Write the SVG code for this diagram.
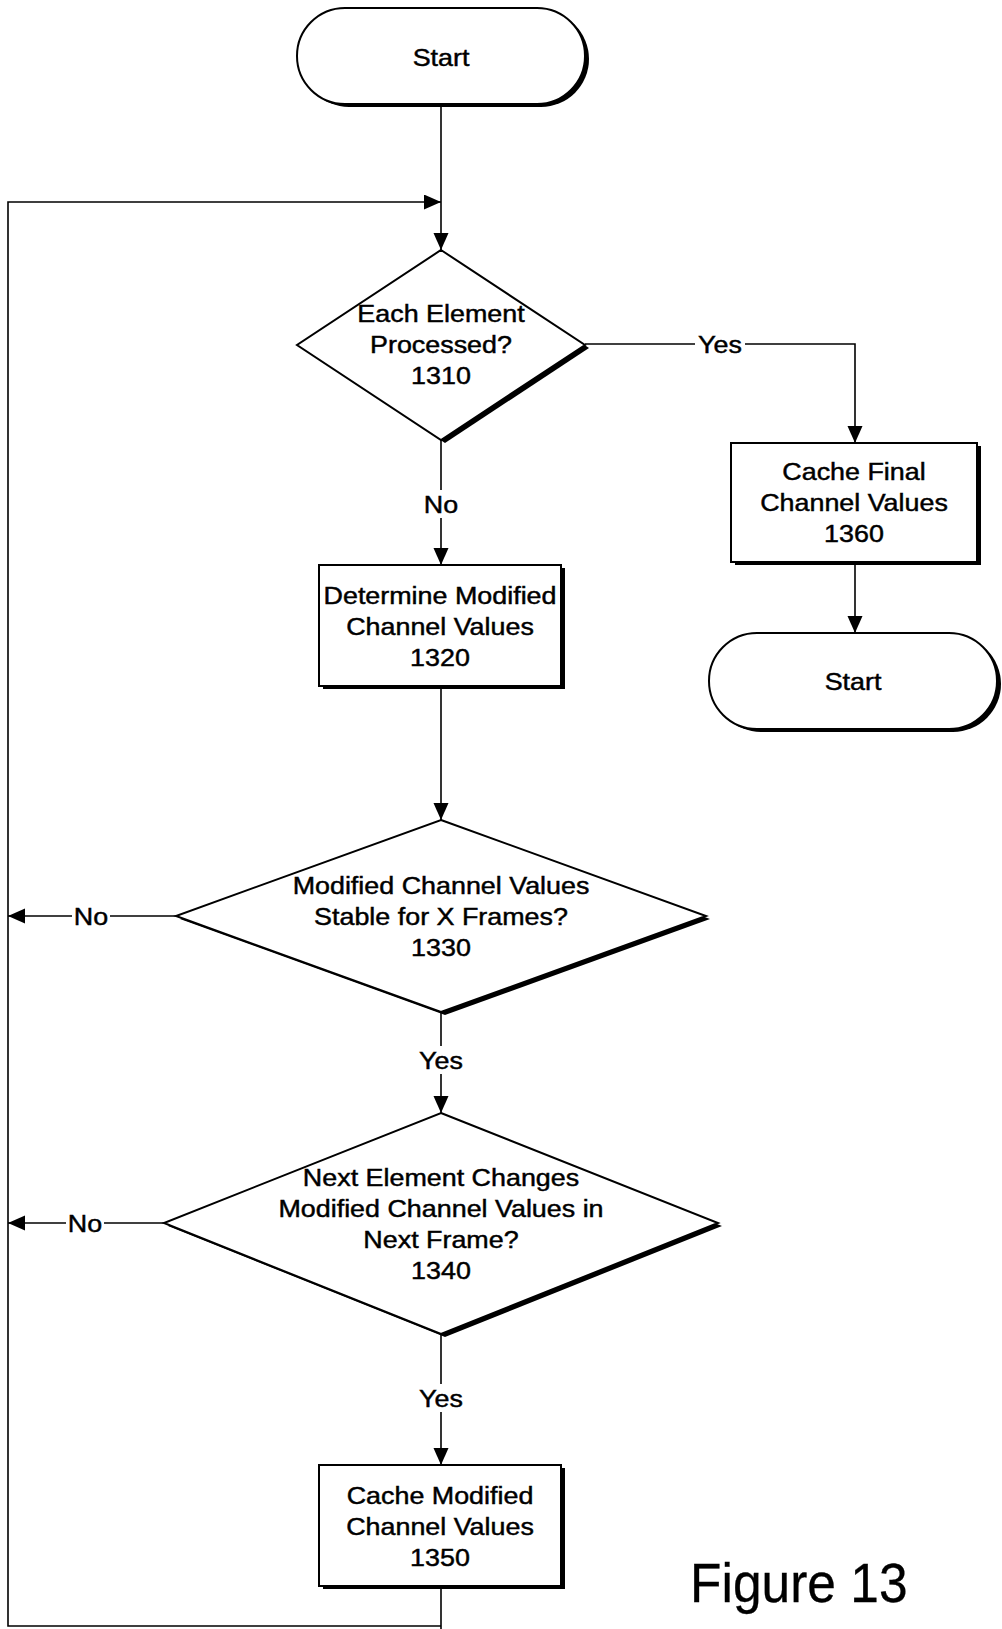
<svg xmlns="http://www.w3.org/2000/svg" width="1002" height="1629" viewBox="0 0 1002 1629">
<style>
.shape{fill:#fff;stroke:#000;stroke-width:2}
.shadow{fill:#000;stroke:none}
.conn{fill:none;stroke:#000;stroke-width:1.6}
.arr{marker-end:url(#ah)}
text{font-family:"Liberation Sans",Arial,sans-serif;font-size:24px;fill:#000;stroke:#000;stroke-width:0.45;text-anchor:middle}
.fig{font-size:56px;text-anchor:start;stroke-width:0.3}
</style>
<defs>
<marker id="ah" markerUnits="userSpaceOnUse" markerWidth="18" markerHeight="16" refX="17" refY="7.5" orient="auto">
<path d="M0,0 L17,7.5 L0,15 Z" fill="#000"/>
</marker>
</defs>
<rect width="1002" height="1629" fill="#fff"/>

<g id="connectors">
<line class="conn arr" x1="441" y1="105" x2="441" y2="250"/>
<polyline class="conn arr" points="441,1626 8,1626 8,202 441,202"/>
<polyline class="conn" points="585,344 695,344"/>
<polyline class="conn arr" points="745,344 855,344 855,443"/>
<line class="conn" x1="441" y1="440" x2="441" y2="490"/>
<line class="conn arr" x1="441" y1="518" x2="441" y2="565"/>
<line class="conn arr" x1="441" y1="686" x2="441" y2="820"/>
<line class="conn" x1="176" y1="916" x2="110" y2="916"/>
<line class="conn arr" x1="72" y1="916" x2="8" y2="916"/>
<line class="conn" x1="441" y1="1012" x2="441" y2="1046"/>
<line class="conn arr" x1="441" y1="1074" x2="441" y2="1113"/>
<line class="conn" x1="164" y1="1223" x2="104" y2="1223"/>
<line class="conn arr" x1="66" y1="1223" x2="8" y2="1223"/>
<line class="conn" x1="441" y1="1334" x2="441" y2="1384"/>
<line class="conn arr" x1="441" y1="1412" x2="441" y2="1465"/>
<line class="conn" x1="441" y1="1586" x2="441" y2="1629"/>
<line class="conn arr" x1="855" y1="562" x2="855" y2="633"/>
<text transform="matrix(1.12 0 0 1 720 352.5)">Yes</text>
<text transform="matrix(1.12 0 0 1 441 512.5)">No</text>
<text transform="matrix(1.12 0 0 1 91 924.5)">No</text>
<text transform="matrix(1.12 0 0 1 441 1068.5)">Yes</text>
<text transform="matrix(1.12 0 0 1 85 1231.5)">No</text>
<text transform="matrix(1.12 0 0 1 441 1406.5)">Yes</text>
</g>

<g id="start">
<rect class="shadow" x="301" y="11" width="288" height="96" rx="48"/>
<rect class="shape" x="297" y="8" width="288" height="96" rx="48"/>
<text transform="matrix(1.12 0 0 1 441 65.5)">Start</text>
</g>

<g id="n1310">
<polygon class="shadow" points="445,253 589,348 445,443 302,348"/>
<polygon class="shape" points="441,250 585,345 441,440 297,345"/>
<text transform="matrix(1.12 0 0 1 441 321.5)">Each Element</text>
<text transform="matrix(1.12 0 0 1 441 352.5)">Processed?</text>
<text transform="matrix(1.12 0 0 1 441 383.5)">1310</text>
</g>

<g id="n1320">
<rect class="shadow" x="323" y="568" width="242" height="121"/>
<rect class="shape" x="319" y="565" width="242" height="121"/>
<text transform="matrix(1.12 0 0 1 440 603.5)">Determine Modified</text>
<text transform="matrix(1.12 0 0 1 440 634.5)">Channel Values</text>
<text transform="matrix(1.12 0 0 1 440 665.5)">1320</text>
</g>

<g id="n1360">
<rect class="shadow" x="735" y="446" width="246" height="119"/>
<rect class="shape" x="731" y="443" width="246" height="119"/>
<text transform="matrix(1.12 0 0 1 854 479.5)">Cache Final</text>
<text transform="matrix(1.12 0 0 1 854 510.5)">Channel Values</text>
<text transform="matrix(1.12 0 0 1 854 541.5)">1360</text>
</g>

<g id="end">
<rect class="shadow" x="713" y="636" width="288" height="96" rx="48"/>
<rect class="shape" x="709" y="633" width="288" height="96" rx="48"/>
<text transform="matrix(1.12 0 0 1 853 689.5)">Start</text>
</g>

<g id="n1330">
<polygon class="shadow" points="445,823 710,919 445,1015 180,919"/>
<polygon class="shape" points="441,820 706,916 441,1012 176,916"/>
<text transform="matrix(1.12 0 0 1 441 893.5)">Modified Channel Values</text>
<text transform="matrix(1.12 0 0 1 441 924.5)">Stable for X Frames?</text>
<text transform="matrix(1.12 0 0 1 441 955.5)">1330</text>
</g>

<g id="n1340">
<polygon class="shadow" points="445,1116 722,1226 445,1337 168,1226"/>
<polygon class="shape" points="441,1113 718,1223 441,1334 164,1223"/>
<text transform="matrix(1.12 0 0 1 441 1185.5)">Next Element Changes</text>
<text transform="matrix(1.12 0 0 1 441 1216.5)">Modified Channel Values in</text>
<text transform="matrix(1.12 0 0 1 441 1247.5)">Next Frame?</text>
<text transform="matrix(1.12 0 0 1 441 1278.5)">1340</text>
</g>

<g id="n1350">
<rect class="shadow" x="323" y="1468" width="242" height="121"/>
<rect class="shape" x="319" y="1465" width="242" height="121"/>
<text transform="matrix(1.12 0 0 1 440 1503.5)">Cache Modified</text>
<text transform="matrix(1.12 0 0 1 440 1534.5)">Channel Values</text>
<text transform="matrix(1.12 0 0 1 440 1565.5)">1350</text>
</g>

<g id="caption">
<text class="fig" transform="matrix(0.92 0 0 1 690 1602)">Figure 13</text>
</g>
</svg>
